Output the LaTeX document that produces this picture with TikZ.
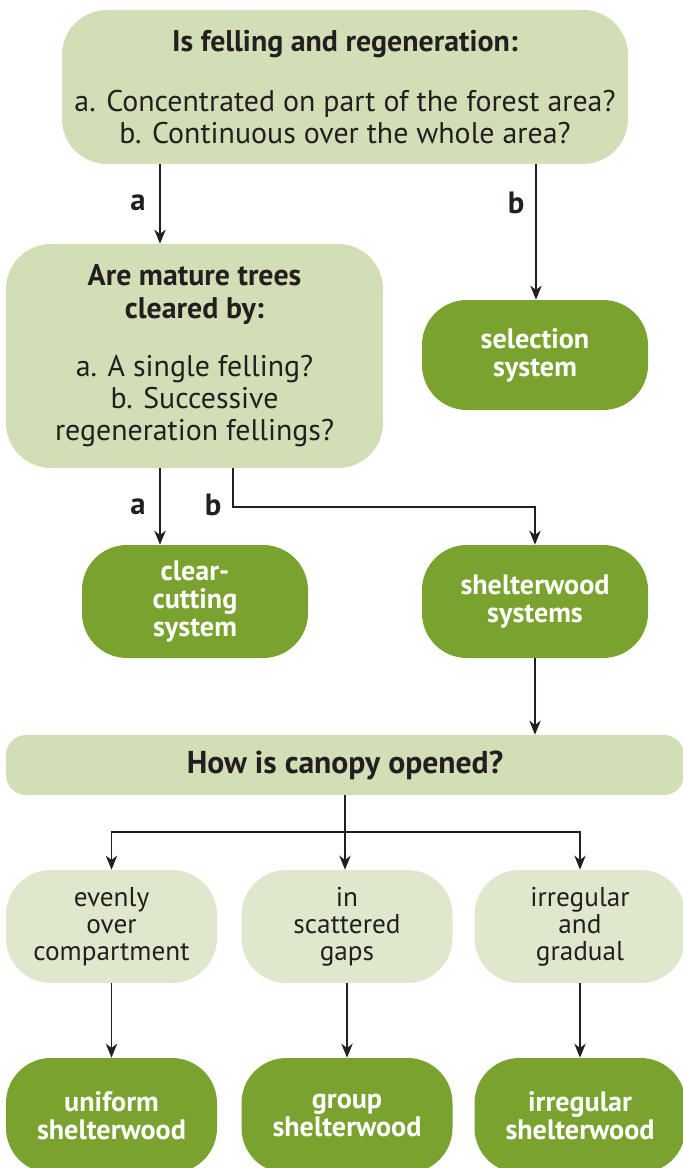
\documentclass[tikz,border=0pt]{standalone}
\usepackage{fontspec}
\setmainfont{PT Sans}
\usepackage{tikz}
\usetikzlibrary{positioning,arrows.meta,calc}

\definecolor{palegreen}{HTML}{D2DEB6}
\definecolor{lightgreen}{HTML}{DFE8CC}
\definecolor{darkgreen}{HTML}{7AA22F}
\definecolor{inkgray}{HTML}{231F20}

\tikzset{
  question/.style={fill=palegreen, rounded corners=0.9cm, align=center, text=inkgray, inner sep=0pt},
  option/.style={fill=lightgreen, rounded corners=0.9cm, align=center, text=inkgray, inner sep=0pt,
    minimum width=4.22cm, minimum height=2.26cm, font=\fontsize{15.5}{15.5}\selectfont},
  system/.style={fill=darkgreen, rounded corners=0.9cm, align=center, text=white, inner sep=0pt,
    minimum width=4.52cm, font=\bfseries\fontsize{16}{16}\selectfont},
  choice/.style={font=\bfseries\fontsize{17.5}{18}\selectfont, text=inkgray},
  arr/.style={draw=inkgray, line width=0.6pt, -{Stealth[length=8pt,width=6.5pt,inset=2.5pt]}},
  wire/.style={draw=inkgray, line width=0.6pt}
}

\begin{document}
\begin{tikzpicture}
  \useasboundingbox (0,0) rectangle (13.64,-23.36);

  % first question
  \node[question, minimum width=11.32cm, minimum height=3.08cm,
        font=\fontsize{17}{18.3}\selectfont] (q1) at (6.90,-1.74)
    {\textbf{Is felling and regeneration:}\\[16pt]
     a. Concentrated on part of the forest area?\\
     b. Continuous over the whole area?};
  \node[question, minimum width=7.54cm, minimum height=4.48cm,
        font=\fontsize{17}{18.3}\selectfont] (q2) at (3.89,-7.12)
    {\textbf{Are mature trees}\\\textbf{cleared by:}\\[15pt]
     a. A single felling?\\
     b. Successive\\
     regeneration fellings?};

  \node[system, minimum height=2.20cm] (sel) at (10.70,-7.10) {selection\\system};
  \node[system, minimum height=2.26cm] (clear) at (3.90,-12.03) {clear-\\cutting\\system};
  \node[system, minimum height=2.26cm] (shelter) at (10.70,-12.03) {shelterwood\\systems};

  \node[question, rounded corners=0.4cm, minimum width=13.56cm, minimum height=1.20cm,
        font=\bfseries\fontsize{18}{18}\selectfont] (q3) at (6.90,-15.30) {How is canopy opened?};

  % ways of opening
  \node[option] (even) at (2.23,-18.53) {evenly\\over\\compartment};
  \node[option] (gaps) at (6.94,-18.53) {in\\scattered\\gaps};
  \node[option] (grad) at (11.60,-18.53) {irregular\\and\\gradual};

  \node[system, minimum width=4.22cm, minimum height=2.30cm] (uni) at (2.23,-22.31) {uniform\\shelterwood};
  \node[system, minimum width=4.22cm, minimum height=2.30cm] (grp) at (6.94,-22.31) {group\\shelterwood};
  \node[system, minimum width=4.22cm, minimum height=2.30cm] (irr) at (11.60,-22.31) {irregular\\shelterwood};

  % connectors
  \coordinate (q1a) at ($(q1.south)+(-3.70,0)$);
  \coordinate (q1b) at ($(q1.south)+(3.82,0)$);
  \draw[arr] (q1a) -- (q1a |- q2.north);
  \draw[arr] (q1b) -- (q1b |- sel.north);
  \node[choice] (la1) at (2.76,-4.06) {a};
  \node[choice] (lb1) at (10.32,-4.06) {b};

  \coordinate (q2a) at (3.20,-9.36);
  \coordinate (q2b) at (4.66,-9.36);
  \coordinate (bend) at (4.66,-10.14);
  \draw[arr] (q2a) -- (q2a |- clear.north);
  \draw[arr] (q2b) -- (bend) -| (shelter.north);
  \node[choice] (la2) at (2.76,-10.14) {a};
  \node[choice] (lb2) at (4.26,-10.10) {b};

  \draw[arr] (shelter.south) -- (shelter.south |- q3.north);

  \coordinate (split) at (6.90,-16.64);
  \draw[wire] (q3.south) -- (split);
  \draw[arr] (split) -- (split |- gaps.north);
  \draw[arr] (split) -| (even.north);
  \draw[arr] (split) -| (grad.north);

  \draw[arr] (even) -- (uni);
  \draw[arr] (gaps) -- (grp);
  \draw[arr] (grad) -- (irr);
\end{tikzpicture}
\end{document}
